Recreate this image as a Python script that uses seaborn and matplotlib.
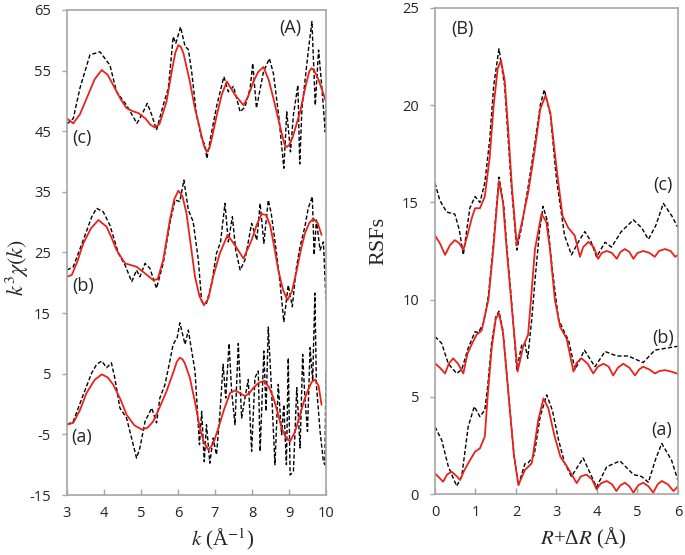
import numpy as np
import matplotlib
matplotlib.use('Agg')
import matplotlib.pyplot as plt
import seaborn as sns

# ---- panel A: k^3 chi(k), three offset spectra (experiment dashed, fit red)
k_c_exp = [3.0, 3.17, 3.35, 3.62, 3.89, 4.16, 4.34, 4.61, 4.89, 5.02, 5.17, 5.29, 5.42, 5.60, 5.74,
           5.87, 5.94, 6.07, 6.19, 6.28, 6.37, 6.50, 6.64, 6.73, 6.78, 6.91, 7.05, 7.24, 7.36, 7.50,
           7.68, 7.81, 7.95, 8.02, 8.12, 8.31, 8.47, 8.58, 8.72, 8.86, 8.94, 9.04, 9.12, 9.24, 9.29,
           9.35, 9.53, 9.62, 9.71, 9.80, 9.89, 9.98, 10.0]
chi_c_exp = [46.2, 47.1, 52.1, 57.6, 58.1, 55.9, 51.5, 49.3, 46.3, 47.7, 49.6, 47.7, 45.2, 49.3, 52.1,
             60.6, 59.5, 62.2, 59.0, 58.5, 54.8, 47.7, 43.8, 42.7, 40.5, 44.9, 49.3, 54.0, 51.5, 52.4,
             48.2, 49.0, 52.1, 56.2, 48.8, 54.8, 57.0, 54.5, 47.7, 38.9, 48.2, 41.6, 47.7, 52.6, 39.6,
             48.8, 58.7, 63.1, 49.3, 58.4, 52.1, 44.9, 49.9]
k_c_fit = [3.0, 3.17, 3.35, 3.53, 3.75, 3.94, 4.1, 4.25, 4.45, 4.61, 4.78, 4.93, 5.12, 5.25, 5.38,
           5.5, 5.69, 5.85, 5.93, 6.01, 6.08, 6.15, 6.32, 6.45, 6.59, 6.7, 6.78, 6.85, 6.92, 7.05, 7.18,
           7.32, 7.54, 7.77, 7.9, 8.04, 8.17, 8.31, 8.45, 8.58, 8.75, 8.88, 8.94, 9.0, 9.1, 9.3, 9.45,
           9.55, 9.61, 9.68, 9.8, 10.0]
chi_c_fit = [47.1, 46.3, 47.8, 50.4, 53.6, 55.1, 54.3, 52.6, 50.3, 48.8, 48.3, 48.0, 47.1, 46.1, 45.6,
             46.2, 49.9, 55.5, 58.0, 59.2, 58.9, 57.8, 53.2, 49.0, 45.5, 42.6, 41.6, 42.2, 44.0, 47.7, 51.0,
             53.2, 51.0, 49.3, 50.8, 53.2, 54.8, 55.6, 53.5, 50.4, 46.0, 42.8, 42.4, 42.7, 44.0, 48.2, 52.5,
             54.9, 55.4, 55.0, 53.5, 49.9]

k_b_exp = [3.0, 3.17, 3.44, 3.67, 3.80, 3.98, 4.16, 4.39, 4.57, 4.75, 4.88, 4.97, 5.11, 5.24, 5.42,
           5.60, 5.78, 5.92, 6.05, 6.16, 6.28, 6.41, 6.55, 6.64, 6.77, 6.91, 7.04, 7.15, 7.27, 7.36,
           7.47, 7.56, 7.68, 7.81, 7.99, 8.13, 8.22, 8.32, 8.44, 8.52, 8.64, 8.75, 8.86, 8.98, 9.09,
           9.19, 9.30, 9.43, 9.52, 9.63, 9.68, 9.74, 9.84, 9.93, 10.0]
chi_b_exp = [22.1, 22.65, 27.05, 30.9, 32.3, 31.7, 29.5, 24.85, 22.9, 20.2, 22.1, 21.0, 23.2, 22.4, 19.1,
             23.2, 29.8, 33.65, 33.4, 36.95, 32.0, 30.1, 23.75, 16.9, 16.6, 19.9, 24.85, 26.75, 33.1, 26.75,
             30.9, 25.4, 22.1, 23.75, 29.8, 27.05, 33.1, 26.5, 33.65, 31.45, 26.0, 20.45, 13.6, 19.6, 16.05,
             22.1, 26.0, 29.25, 32.3, 34.2, 24.6, 30.35, 25.4, 26.75, 17.15]
k_b_fit = [3.0, 3.13, 3.28, 3.44, 3.65, 3.85, 4.07, 4.2, 4.34, 4.57, 4.88, 5.11, 5.33, 5.45, 5.60,
           5.78, 5.9, 6.01, 6.12, 6.23, 6.35, 6.46, 6.58, 6.70, 6.82, 6.95, 7.13, 7.34, 7.54, 7.77,
           7.99, 8.13, 8.26, 8.38, 8.49, 8.6, 8.71, 8.84, 8.96, 9.08, 9.21, 9.32, 9.43, 9.55, 9.66,
           9.78, 9.88]
chi_b_fit = [21.0, 21.3, 23.5, 26.5, 29.0, 30.35, 29.25, 27.5, 25.4, 23.2, 22.65, 21.55, 20.45, 20.6, 23.75,
             30.35, 33.8, 35.2, 34.3, 31.45, 26.0, 21.0, 17.8, 16.3, 17.4, 21.0, 24.85, 27.9, 26.2, 24.0,
             27.05, 29.6, 31.35, 31.2, 29.5, 26.0, 22.1, 18.8, 17.15, 18.6, 22.1, 25.4, 28.15, 29.9, 30.6,
             29.8, 27.9]

k_a_exp = [3.0, 3.17, 3.44, 3.67, 3.80, 3.94, 4.07, 4.20, 4.29, 4.43, 4.61, 4.79, 4.88, 4.97, 5.11,
           5.29, 5.42, 5.51, 5.65, 5.78, 5.87, 5.98, 6.05, 6.19, 6.28, 6.37, 6.46, 6.58, 6.64, 6.71,
           6.77, 6.86, 6.95, 7.04, 7.13, 7.22, 7.29, 7.38, 7.45, 7.54, 7.63, 7.72, 7.81, 7.90, 7.99,
           8.08, 8.17, 8.22, 8.32, 8.38, 8.44, 8.53, 8.62, 8.71, 8.80, 8.86, 8.93, 8.98, 9.03, 9.12,
           9.21, 9.30, 9.37, 9.43, 9.50, 9.57, 9.64, 9.70, 9.74, 9.84, 9.93, 9.97, 10.0]
chi_a_exp = [-3.4, -2.85, 1.55, 5.15, 6.55, 7.1, 6.0, 6.8, 4.35, -0.65, -2.3, -6.7, -8.9, -7.25, -2.85,
             -0.65, -3.1, 1.0, 3.25, 7.1, 9.85, 11.0, 13.4, 9.85, 12.2, 8.75, 5.45, -6.7, -1.2, -9.5,
             -3.4, -9.75, -5.6, -8.35, -1.75, 6.55, 1.0, 10.0, 2.1, -3.4, 10.0, -2.3, 1.0, 4.05, -7.8,
             4.35, 5.45, -7.8, 8.75, -1.2, 12.7, 2.1, -10.0, 3.25, -5.05, -0.1, -10.0, 7.6, -11.7, -11.1,
             2.7, -7.25, 8.2, 1.0, -4.5, 9.3, 3.8, 18.3, 3.25, -4.5, -9.5, -10.0, 5.5]
k_a_fit = [3.0, 3.17, 3.35, 3.53, 3.75, 3.94, 4.1, 4.25, 4.45, 4.61, 4.82, 5.02, 5.18, 5.33, 5.5,
           5.69, 5.87, 5.97, 6.05, 6.12, 6.18, 6.32, 6.46, 6.59, 6.7, 6.82, 6.95, 7.09, 7.25, 7.41,
           7.54, 7.68, 7.81, 7.93, 8.04, 8.18, 8.31, 8.45, 8.58, 8.7, 8.80, 8.92, 9.03, 9.16, 9.30,
           9.41, 9.52, 9.61, 9.70, 9.80, 9.88]
chi_a_fit = [-3.4, -3.1, -1.0, 1.85, 4.0, 4.9, 4.4, 3.2, 0.7, -1.75, -3.5, -4.2, -3.9, -2.85, -0.6,
             2.1, 5.2, 7.0, 7.65, 7.4, 6.8, 4.35, 0.3, -3.95, -6.3, -7.55, -6.6, -3.95, -0.8, 1.85,
             2.25, 1.8, 1.3, 1.8, 2.7, 3.5, 3.8, 2.9, 1.0, -1.5, -3.95, -5.6, -6.15, -4.6, -1.75,
             0.6, 2.4, 3.6, 4.05, 3.0, -0.1]

# ---- panel B: radial structure functions
r_c_exp = [0, 0.12, 0.29, 0.49, 0.6, 0.7, 0.86, 0.99, 1.11, 1.23, 1.35, 1.45, 1.58, 1.72, 1.88,
           2.02, 2.14, 2.3, 2.45, 2.6, 2.70, 2.85, 3.0, 3.2, 3.37, 3.55, 3.7, 3.85, 3.99, 4.2,
           4.36, 4.6, 4.9, 5.1, 5.27, 5.45, 5.64, 5.85, 6.0]
rsf_c_exp = [16.0, 15.1, 14.5, 14.4, 13.6, 12.3, 14.7, 15.3, 15.0, 16.0, 18.2, 21.0, 22.9, 21.0, 16.0,
             12.55, 13.75, 15.8, 17.8, 20.0, 20.8, 19.5, 16.2, 13.3, 12.3, 13.0, 13.5, 13.0, 12.2, 12.95,
             12.7, 13.5, 14.1, 13.7, 13.1, 13.8, 14.95, 14.3, 13.7]
r_c_fit = [0, 0.12, 0.25, 0.37, 0.49, 0.6, 0.7, 0.8, 0.91, 0.99, 1.11, 1.23, 1.35, 1.45, 1.55,
           1.63, 1.72, 1.8, 1.9, 2.02, 2.15, 2.3, 2.45, 2.6, 2.73, 2.85, 3.0, 3.15, 3.29, 3.45,
           3.58, 3.66, 3.79, 3.92, 4.03, 4.12, 4.24, 4.37, 4.49, 4.58, 4.69, 4.8, 4.9, 5.0, 5.14,
           5.3, 5.43, 5.53, 5.68, 5.82, 5.93, 6.0]
rsf_c_fit = [13.3, 12.9, 12.3, 12.8, 13.06, 12.9, 12.55, 13.3, 14.2, 14.7, 14.7, 15.3, 17.3, 20.0, 21.9,
             22.3, 21.3, 19.0, 15.8, 12.8, 14.0, 15.5, 17.5, 19.8, 20.5, 19.6, 16.8, 14.3, 13.7, 13.3,
             12.2, 12.7, 12.97, 12.7, 12.1, 12.4, 12.5, 12.4, 12.1, 12.45, 12.6, 12.45, 12.1, 12.4, 12.5,
             12.4, 12.2, 12.5, 12.6, 12.5, 12.2, 12.3]

r_b_exp = [0, 0.165, 0.33, 0.535, 0.66, 0.82, 0.99, 1.07, 1.2, 1.32, 1.44, 1.58, 1.7, 1.77, 1.88,
           2.02, 2.14, 2.22, 2.29, 2.39, 2.47, 2.58, 2.67, 2.78, 2.9, 3.05, 3.2, 3.3, 3.46, 3.69,
           3.95, 4.2, 4.49, 4.77, 5.14, 5.43, 5.68, 6.0]
rsf_b_exp = [8.1, 7.75, 6.7, 6.2, 6.4, 7.5, 8.35, 8.3, 8.8, 10.2, 12.8, 16.3, 14.8, 12.8, 10.2,
             6.4, 7.65, 7.75, 6.98, 9.0, 11.0, 13.5, 14.8, 14.0, 11.5, 9.0, 8.3, 7.9, 6.4, 7.4,
             6.55, 7.33, 7.1, 7.1, 6.76, 7.4, 7.49, 7.6]
r_b_fit = [0, 0.12, 0.25, 0.34, 0.45, 0.57, 0.7, 0.8, 0.9, 1.03, 1.15, 1.32, 1.44, 1.58, 1.68,
           1.77, 1.88, 2.04, 2.18, 2.3, 2.37, 2.47, 2.63, 2.75, 2.84, 2.96, 3.09, 3.25, 3.42, 3.5,
           3.62, 3.77, 3.91, 4.02, 4.16, 4.29, 4.4, 4.52, 4.65, 4.8, 4.94, 5.04, 5.14, 5.3, 5.43,
           5.55, 5.68, 5.83, 5.97, 6.0]
rsf_b_fit = [6.72, 6.5, 6.2, 6.7, 6.98, 6.7, 6.2, 7.2, 7.67, 8.2, 8.4, 10.0, 12.6, 16.1, 15.0,
             12.6, 10.0, 6.3, 7.6, 8.2, 10.0, 12.6, 14.4, 14.0, 12.6, 10.0, 8.6, 8.0, 6.3, 6.75,
             6.98, 6.7, 6.2, 6.55, 6.7, 6.55, 6.1, 6.5, 6.7, 6.5, 6.1, 6.4, 6.55, 6.4, 6.2,
             6.33, 6.37, 6.3, 6.2, 6.2]

r_a_exp = [0, 0.165, 0.33, 0.535, 0.66, 0.82, 0.97, 1.11, 1.23, 1.3, 1.4, 1.5, 1.58, 1.68, 1.8,
           1.95, 2.06, 2.22, 2.3, 2.45, 2.6, 2.76, 2.9, 3.05, 3.2, 3.37, 3.66, 3.99, 4.24, 4.57,
           4.9, 5.1, 5.27, 5.45, 5.6, 5.84, 6.0]
rsf_a_exp = [3.46, 2.78, 1.41, 0.41, 0.9, 3.46, 4.5, 3.98, 4.32, 5.5, 7.8, 9.1, 9.4, 8.4, 5.5,
             2.0, 0.45, 1.55, 1.6, 2.0, 4.0, 5.1, 4.3, 2.8, 1.6, 0.9, 1.85, 0.35, 1.4, 1.7,
             1.0, 0.9, 0.6, 1.8, 2.6, 1.75, 0.7]
r_a_fit = [0, 0.1, 0.2, 0.3, 0.41, 0.52, 0.62, 0.72, 0.82, 0.99, 1.11, 1.23, 1.3, 1.4, 1.5,
           1.58, 1.68, 1.8, 1.95, 2.06, 2.22, 2.39, 2.55, 2.68, 2.8, 2.95, 3.1, 3.25, 3.5, 3.6,
           3.74, 3.88, 3.99, 4.1, 4.24, 4.37, 4.48, 4.58, 4.69, 4.8, 4.9, 5.02, 5.14, 5.27, 5.39,
           5.5, 5.6, 5.75, 5.89, 6.0]
rsf_a_fit = [1.06, 0.85, 0.63, 1.0, 1.15, 0.95, 0.72, 1.2, 1.58, 2.18, 2.35, 2.95, 5.0, 7.5, 9.0,
             9.3, 8.3, 5.5, 2.0, 0.46, 1.23, 1.58, 3.8, 4.92, 4.4, 3.0, 1.9, 1.45, 0.56, 0.9,
             1.0, 0.75, 0.24, 0.55, 0.67, 0.5, 0.15, 0.45, 0.58, 0.4, 0.07, 0.45, 0.58, 0.4, 0.07,
             0.5, 0.67, 0.5, 0.15, 0.4]

sns.set_style('white')
plt.rcParams['font.family'] = ['Open Sans', 'DejaVu Sans']
plt.rcParams['mathtext.fontset'] = 'stix'
plt.rcParams['axes.unicode_minus'] = False

RED = '#e8231d'
GRAY = '#a6a6a6'
DASH = (0, (3, 1.6))
serif = 'Liberation Serif'

fig = plt.figure(figsize=(6.85, 5.55), dpi=100)
ax1 = fig.add_axes([0.0978, 0.1081, 0.3781, 0.8739])
ax2 = fig.add_axes([0.635, 0.1099, 0.3547, 0.8757])

for kx, ky, fx, fy in [(k_c_exp, chi_c_exp, k_c_fit, chi_c_fit),
                       (k_b_exp, chi_b_exp, k_b_fit, chi_b_fit),
                       (k_a_exp, chi_a_exp, k_a_fit, chi_a_fit)]:
    sns.lineplot(x=kx, y=ky, ax=ax1, color='black', lw=1.0, linestyle=DASH, estimator=None, sort=False)
    sns.lineplot(x=fx, y=fy, ax=ax1, color=RED, lw=1.3, estimator=None, sort=False)

for rx, ry, fx, fy in [(r_c_exp, rsf_c_exp, r_c_fit, rsf_c_fit),
                       (r_b_exp, rsf_b_exp, r_b_fit, rsf_b_fit),
                       (r_a_exp, rsf_a_exp, r_a_fit, rsf_a_fit)]:
    sns.lineplot(x=rx, y=ry, ax=ax2, color='black', lw=1.0, linestyle=DASH, estimator=None, sort=False)
    sns.lineplot(x=fx, y=fy, ax=ax2, color=RED, lw=1.3, estimator=None, sort=False)

ax1.set_xlim(3, 10)
ax1.set_ylim(-15, 65)
ax1.set_xticks(range(3, 11))
ax1.set_yticks(range(-15, 66, 10))
ax2.set_xlim(0, 6)
ax2.set_ylim(0, 25)
ax2.set_xticks(range(0, 7))
ax2.set_yticks(range(0, 26, 5))

for ax in (ax1, ax2):
    for s in ax.spines.values():
        s.set_visible(True)
        s.set_color(GRAY)
        s.set_linewidth(1.2)
    ax.tick_params(axis='x', direction='in', length=4, width=1, color=GRAY, pad=8, labelsize=10.5)
    ax.tick_params(axis='y', direction='out', length=3.5, width=1, color=GRAY, pad=8, labelsize=10.5)
    ax.tick_params(bottom=True, left=True)

# curve labels
txt = dict(fontsize=13, ha='center', va='center')
ax1.text(9.03, 62.0, '(A)', **txt)
ax1.text(3.4, 43.9, '(c)', **txt)
ax1.text(3.43, 19.5, '(b)', **txt)
ax1.text(3.4, -5.5, '(a)', **txt)
ax2.text(0.69, 23.9, '(B)', **txt)
ax2.text(5.63, 15.9, '(c)', **txt)
ax2.text(5.63, 8.0, '(b)', **txt)
ax2.text(5.6, 3.3, '(a)', **txt)

ax1.set_ylabel(r'$k^3\chi(k)$', fontsize=16, family=serif)
ax1.yaxis.set_label_coords(-0.14, 0.47)
ax1.set_xlabel(r'$k$ (Å$^{-1}$)', fontsize=15, family=serif)
ax1.xaxis.set_label_coords(0.6, -0.065)
ax2.set_ylabel('RSFs', fontsize=16, family=serif)
ax2.yaxis.set_label_coords(-0.19, 0.52)
ax2.set_xlabel(r'$R$+Δ$R$ (Å)', fontsize=15, family=serif)
ax2.xaxis.set_label_coords(0.61, -0.065)

fig.savefig('out.png', dpi=100)
